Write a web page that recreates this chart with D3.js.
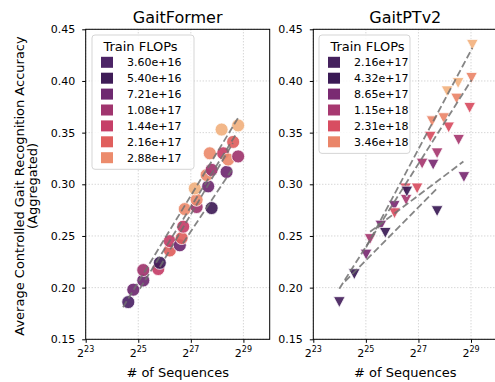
<!DOCTYPE html>
<html><head><meta charset="utf-8">
<script src="https://cdn.jsdelivr.net/npm/d3@7/dist/d3.min.js"></script>
<style>body{margin:0;background:#fff}svg{display:block;font-family:"DejaVu Sans",sans-serif}</style>
</head><body><svg id="c" width="495" height="382"></svg>
<script>
// ---------- data ----------
const xTickExps = [23, 25, 27, 29];
const yTicks = [0.15, 0.20, 0.25, 0.30, 0.35, 0.40, 0.45];

// GaitFormer: log2(# sequences), accuracy, train FLOPs
const gfLog2Seq = [24.62,24.81,25.19,25.19,25.76,25.82,26.20,26.20,26.58,26.65,26.71,26.77,27.22,27.22,27.79,27.15,27.66,27.60,27.79,28.36,27.72,28.23,28.42,28.80,28.61,28.17,28.80];
const gfAcc     = [0.186,0.198,0.207,0.217,0.218,0.224,0.236,0.245,0.241,0.248,0.259,0.276,0.278,0.285,0.277,0.296,0.298,0.309,0.314,0.312,0.330,0.330,0.324,0.327,0.341,0.353,0.357];
const gfFlops   = [3.6e16,7.21e16,7.21e16,1.08e17,1.44e17,5.4e16,2.16e17,1.44e17,7.21e16,2.16e17,1.44e17,2.88e17,1.08e17,2.88e17,5.4e16,4.32e17,7.21e16,2.88e17,1.08e17,7.21e16,2.88e17,1.44e17,2.88e17,1.08e17,2.16e17,4.32e17,4.32e17];
const gfFlopLevels = [3.6e16,5.4e16,7.21e16,1.08e17,1.44e17,2.16e17,2.88e17,4.32e17];
const gfLegend = ["3.60e+16","5.40e+16","7.21e+16","1.08e+17","1.44e+17","2.16e+17","2.88e+17"];
// fitted trend lines [log2 start, acc start, log2 end, acc end]
const gfFits = [[24.42,0.181,28.79,0.364],[25.06,0.199,28.71,0.348],[25.82,0.220,28.60,0.340],[26.70,0.243,28.56,0.314]];

// GaitPTv2
const ptLog2Seq = [23.99,24.56,25.01,25.16,25.57,25.74,26.08,26.09,26.51,26.53,26.56,26.95,27.71,27.14,27.56,28.73,27.71,27.45,28.53,27.52,27.96,28.15,28.95,28.45,29.02,28.09,28.51,29.05];
const ptAcc     = [0.186,0.213,0.232,0.247,0.260,0.253,0.279,0.272,0.296,0.285,0.293,0.296,0.274,0.320,0.319,0.307,0.330,0.346,0.343,0.361,0.364,0.355,0.374,0.383,0.403,0.390,0.398,0.435];
const ptFlops   = [2.16e17,4.32e17,8.65e17,1.15e18,8.65e17,4.32e17,8.65e17,2.31e18,2.31e18,1.15e18,4.32e17,2.31e18,4.32e17,1.15e18,8.65e17,8.65e17,1.15e18,2.31e18,1.15e18,3.46e18,3.46e18,2.31e18,2.31e18,3.46e18,3.46e18,4.61e18,4.61e18,4.61e18];
const ptFlopLevels = [2.16e17,4.32e17,8.65e17,1.15e18,2.31e18,3.46e18,4.61e18];
const ptLegend = ["2.16e+17","4.32e+17","8.65e+17","1.15e+18","2.31e+18","3.46e+18"];
const ptFits = [[25.01,0.239,29.05,0.432],[23.99,0.199,29.02,0.401],[25.16,0.254,28.71,0.322],[24.21,0.206,27.71,0.296]];

// ---------- style ----------
const gfPalette = ['#4c2466','#3f1c57','#6e2970','#a0356e','#c63f68','#e05f5d','#ec8b6c','#f1b17f'];
const ptPalette = ['#45215d','#3a1a55','#7a2a72','#a73870','#d84d61','#ea8569','#f3b27f'];

const svg = d3.select('#c');
svg.append('rect').attr('width',495).attr('height',382).attr('fill','#fff');
const yTop = 29.3, yBot = 339.3;
const y = d3.scaleLinear().domain([0.15,0.45]).range([yBot,yTop]);

function panel(cfg){
  const x = d3.scaleLog().base(2).domain([2**23, 2**30]).range([cfg.x0, cfg.x0+184]);
  const color = d3.scaleOrdinal().domain(cfg.levels).range(cfg.palette);
  const g = svg.append('g');
  // grid
  g.selectAll('.gx').data(xTickExps).enter().append('line')
    .attr('x1',d=>x(2**d)).attr('x2',d=>x(2**d)).attr('y1',yTop).attr('y2',yBot)
    .attr('stroke','#b8b8b8').attr('stroke-width',0.8).attr('stroke-dasharray','1,2');
  g.selectAll('.gy').data(yTicks).enter().append('line')
    .attr('x1',cfg.x0).attr('x2',cfg.x0+184).attr('y1',d=>y(d)).attr('y2',d=>y(d))
    .attr('stroke','#b8b8b8').attr('stroke-width',0.8).attr('stroke-dasharray','1,2');
  // axes
  const ax = g.append('g').attr('transform',`translate(0,${yBot})`)
    .call(d3.axisBottom(x).tickValues(xTickExps.map(e=>2**e)).tickSize(3.5).tickFormat(''));
  ax.select('.domain').remove();
  const ay = g.append('g').attr('transform',`translate(${cfg.x0},0)`)
    .call(d3.axisLeft(y).tickValues(yTicks).tickSize(3.5).tickPadding(7).tickFormat(d3.format('.2f')));
  ay.select('.domain').remove();
  ay.selectAll('text').attr('font-size',11).attr('fill','#000').attr('font-family','DejaVu Sans');
  ay.selectAll('line').attr('stroke','#000');
  ax.selectAll('line').attr('stroke','#000');
  // x tick labels with superscripts
  xTickExps.forEach(e=>{
    const t = g.append('text').attr('x',x(2**e)).attr('y',357).attr('text-anchor','middle').attr('font-size',11);
    t.append('tspan').text('2');
    t.append('tspan').attr('font-size',8).attr('dy',-5).text(e);
  });
  // points
  const pts = g.append('g');
  const data = cfg.xs.map((v,i)=>({x:v,y:cfg.ys[i],f:cfg.fl[i]}));
  if(cfg.marker==='circle'){
    pts.selectAll('circle').data(data).enter().append('circle')
      .attr('cx',d=>x(2**d.x)).attr('cy',d=>y(d.y)).attr('r',6.5)
      .attr('fill',d=>color(d.f)).attr('fill-opacity',0.92).attr('stroke','#fff').attr('stroke-width',0.75);
  } else {
    pts.selectAll('path').data(data).enter().append('path')
      .attr('transform',d=>`translate(${x(2**d.x)},${y(d.y)})`)
      .attr('d','M-5.8,-5.4L5.8,-5.4L0,5.4Z')
      .attr('fill',d=>color(d.f)).attr('fill-opacity',0.92).attr('stroke','#fff').attr('stroke-width',0.75);
  }
  // fits
  g.selectAll('.fit').data(cfg.fits).enter().append('line')
    .attr('x1',d=>x(2**d[0])).attr('y1',d=>y(d[1])).attr('x2',d=>x(2**d[2])).attr('y2',d=>y(d[3]))
    .attr('stroke','#707070').attr('stroke-opacity',0.85).attr('stroke-width',1.8).attr('stroke-dasharray','7,3.2');
  // frame
  g.append('rect').attr('x',cfg.x0).attr('y',yTop).attr('width',184).attr('height',yBot-yTop)
    .attr('fill','none').attr('stroke','#000').attr('stroke-width',1);
  // title & xlabel
  g.append('text').attr('x',cfg.x0+92).attr('y',22.7).attr('text-anchor','middle').attr('font-size',16).text(cfg.title);
  g.append('text').attr('x',cfg.x0+92).attr('y',377).attr('text-anchor','middle').attr('font-size',13).text('# of Sequences');
  // legend
  const L = g.append('g');
  const lx = cfg.lx, ly = 35, n = cfg.legend.length;
  L.append('rect').attr('x',lx).attr('y',ly).attr('width',cfg.lw).attr('height',18+n*15.9+5).attr('rx',3)
    .attr('fill','#fff').attr('fill-opacity',0.85).attr('stroke','#d0d0d0').attr('stroke-width',0.9);
  L.append('text').attr('x',lx+48.5).attr('y',ly+15.5).attr('text-anchor','middle').attr('font-size',13).text('Train FLOPs');
  cfg.legend.forEach((lab,i)=>{
    const cy = 62.3 + i*15.9;
    L.append('rect').attr('x',lx+9).attr('y',cy-5.5).attr('width',12).attr('height',11).attr('fill',color(cfg.levels[i]));
    L.append('text').attr('x',lx+35).attr('y',cy+4).attr('font-size',11).text(lab);
  });
}

panel({x0:85.7,title:'GaitFormer',xs:gfLog2Seq,ys:gfAcc,fl:gfFlops,levels:gfFlopLevels,palette:gfPalette,legend:gfLegend,fits:gfFits,marker:'circle',lx:92,lw:102});
panel({x0:313.3,title:'GaitPTv2',xs:ptLog2Seq,ys:ptAcc,fl:ptFlops,levels:ptFlopLevels,palette:ptPalette,legend:ptLegend,fits:ptFits,marker:'tri',lx:319,lw:91});

// y label
svg.append('text').attr('transform','translate(23.5,186) rotate(-90)').attr('text-anchor','middle').attr('font-size',13).text('Average Controlled Gait Recognition Accuracy');
svg.append('text').attr('transform','translate(37,186) rotate(-90)').attr('text-anchor','middle').attr('font-size',13).text('(Aggregated)');
</script></body></html>
